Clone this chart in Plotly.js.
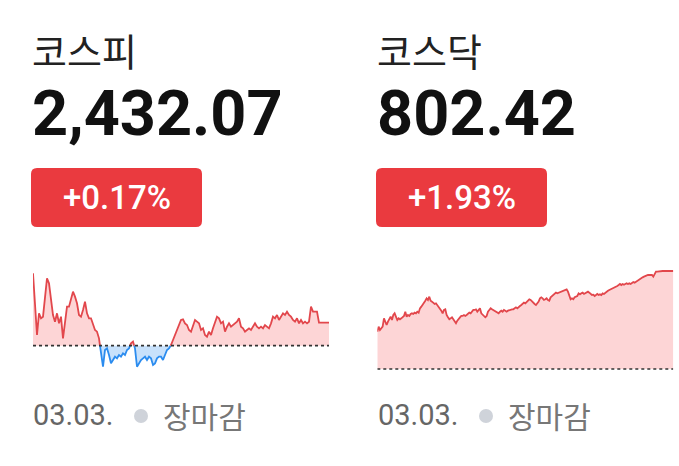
<!DOCTYPE html>
<html><head><meta charset="utf-8">
<script src="https://cdn.plot.ly/plotly-3.0.1.min.js"></script>
<style>html,body{margin:0;padding:0;background:#fff;} #chart{width:679px;height:466px;}</style>
</head><body><div id="chart"></div>
<script>
const names = ['코스피', '코스닥'];
const prices = ['2,432.07', '802.42'];
const changes = ['+0.17%', '+1.93%'];
const dateLabel = '03.03.';
const statusLabel = '장마감';
const kospiBase = 2427.94;
const kosdaqBase = 787.23;

const kospi = [
2440.96,2434.36,2429.86,2433.76,2432.86,2433.16,2437.36,2440.06,2439.16,2436.16,
2433.46,2432.26,2433.76,2431.96,2433.16,2429.26,2431.96,2434.96,2434.96,2436.16,
2437.66,2436.76,2435.56,2433.46,2433.16,2434.36,2435.86,2433.76,2432.86,2432.86,
2431.66,2430.76,2430.46,2429.26,2426.56,2424.16,2427.16,2427.46,2426.26,2424.76,
2425.36,2425.96,2425.66,2426.26,2425.96,2426.56,2426.26,2427.16,2427.46,2428.36,
2428.66,2427.46,2424.16,2424.76,2425.36,2425.66,2425.96,2425.36,2425.96,2425.66,
2424.46,2424.76,2425.66,2425.96,2425.96,2425.36,2426.26,2427.16,2427.46,2428.06,
2428.96,2429.86,2430.76,2431.66,2432.56,2432.68,2431.96,2431.66,2430.76,2430.46,
2431.66,2432.56,2432.26,2431.96,2430.76,2431.06,2429.86,2429.56,2430.46,2429.86,
2431.06,2431.96,2433.16,2432.86,2431.96,2432.26,2430.46,2431.36,2431.96,2431.36,
2431.66,2431.96,2432.26,2432.86,2431.36,2431.06,2430.46,2430.76,2431.06,2430.76,
2431.36,2431.96,2431.36,2431.06,2431.36,2431.06,2431.66,2431.36,2431.06,2431.96,
2433.16,2432.86,2433.46,2432.56,2433.16,2433.76,2433.46,2434.06,2433.46,2433.16,
2432.56,2432.26,2432.86,2431.96,2432.56,2431.96,2432.26,2431.96,2432.26,2434.96,
2434.06,2434.06,2434.06,2432.07,2432.07,2432.07,2432.07,2432.07,2432.07
];

const kosdaq = [
793.02,793.79,793.28,793.53,793.79,795.08,794.57,794.05,794.57,795.08,
795.34,794.83,795.60,795.86,795.34,794.83,795.08,794.93,795.08,795.24,
795.45,796.12,795.34,795.60,795.45,795.76,795.86,795.76,795.96,795.86,
796.12,795.96,796.63,796.89,797.15,797.51,797.82,798.18,797.93,798.44,
797.82,797.67,797.51,797.31,797.41,797.15,796.89,796.63,796.27,795.86,
796.38,796.48,795.60,795.24,794.93,795.08,795.24,794.93,794.57,794.31,
794.72,795.08,795.24,795.45,795.45,795.60,795.45,795.60,795.76,795.96,
795.86,796.12,796.38,796.38,796.48,796.12,796.48,796.63,795.86,795.60,
795.34,795.24,795.45,796.12,796.38,796.63,796.48,796.38,796.27,796.12,
795.96,795.86,796.12,796.27,796.12,796.38,796.27,796.12,796.27,796.38,
796.38,796.48,796.48,796.63,796.79,796.63,796.89,797.00,797.15,797.31,
797.51,797.41,797.67,797.93,798.03,797.93,797.67,797.51,797.31,797.15,
797.41,797.67,798.18,798.34,798.18,797.93,798.03,798.18,797.93,797.82,
798.34,798.55,798.70,798.96,799.06,798.96,799.06,799.17,799.22,799.37,
799.48,799.48,799.58,799.22,798.44,798.03,798.18,798.03,798.34,798.44,
798.55,798.96,798.80,798.96,799.06,798.86,798.96,799.06,799.22,799.06,
798.86,798.70,798.75,798.55,798.70,798.86,798.70,798.80,798.70,798.96,
798.86,799.06,799.22,799.37,799.48,799.58,799.58,799.73,799.89,799.99,
800.10,800.25,800.41,800.25,800.41,800.30,800.41,800.51,800.41,800.51,
800.41,800.51,800.72,800.61,800.77,800.92,801.03,801.13,801.28,801.44,
801.54,801.65,801.70,801.80,801.80,801.85,801.80,801.54,801.90,802.32,
802.32,802.37,802.37,802.42,802.42,802.42,802.42,802.42,802.42,802.42,
802.42,802.42,802.42
];

const W = 679, H = 466;
const X = p => p / W;
const Y = p => 1 - p / H;

const RED_LINE = '#e2474c', RED_FILL = '#fdd5d6';
const BLUE_LINE = '#2b8cef', BLUE_FILL = '#c8e1fb';

function segments(ys, base) {
  const segs = []; let cur = null;
  for (let i = 0; i < ys.length; i++) {
    const up = ys[i] >= base;
    if (!cur) { cur = {up, x: [i], y: [ys[i]]}; continue; }
    if (up !== cur.up) {
      const t = (base - ys[i-1]) / (ys[i] - ys[i-1]);
      const xc = i - 1 + t;
      cur.x.push(xc); cur.y.push(base); segs.push(cur);
      cur = {up, x: [xc, i], y: [base, ys[i]]};
    } else { cur.x.push(i); cur.y.push(ys[i]); }
  }
  segs.push(cur);
  return segs;
}

const traces = [];
function addSeries(ys, base, xa, ya) {
  const segs = segments(ys, base);
  segs.forEach(s => {
    traces.push({
      x: s.x.concat([s.x[s.x.length-1], s.x[0]]),
      y: s.y.concat([base, base]),
      xaxis: xa, yaxis: ya, mode: 'none', fill: 'toself',
      fillcolor: s.up ? RED_FILL : BLUE_FILL, hoverinfo: 'skip'
    });
  });
  segs.forEach(s => {
    traces.push({
      x: s.x, y: s.y, xaxis: xa, yaxis: ya, mode: 'lines',
      line: {color: s.up ? RED_LINE : BLUE_LINE, width: 1.8}, hoverinfo: 'skip'
    });
  });
}
addSeries(kospi, kospiBase, 'x', 'y');
addSeries(kosdaq, kosdaqBase, 'x2', 'y2');

function roundRect(x0, y0, x1, y1, r) {
  const p = (x, y) => X(x) + ',' + Y(y);
  return 'M' + p(x0 + r, y0) + ' L' + p(x1 - r, y0) + ' Q' + p(x1, y0) + ' ' + p(x1, y0 + r) +
    ' L' + p(x1, y1 - r) + ' Q' + p(x1, y1) + ' ' + p(x1 - r, y1) +
    ' L' + p(x0 + r, y1) + ' Q' + p(x0, y1) + ' ' + p(x0, y1 - r) +
    ' L' + p(x0, y0 + r) + ' Q' + p(x0, y0) + ' ' + p(x0 + r, y0) + ' Z';
}

const offsets = [0, 345];
const annotations = [];
const shapes = [];
const KR = '"Noto Sans CJK KR", "Noto Sans", sans-serif';
const RB = 'Roboto, "Noto Sans", sans-serif';
offsets.forEach((o, i) => {
  annotations.push({xref: 'paper', yref: 'paper', x: X(30 + o), y: Y(49), xanchor: 'left', yanchor: 'middle',
    text: names[i], showarrow: false, font: {family: KR, size: 38, color: '#222222'}});
  annotations.push({xref: 'paper', yref: 'paper', x: X(30 + o), y: Y(113), xanchor: 'left', yanchor: 'middle',
    text: prices[i], showarrow: false, font: {family: RB, size: 63, color: '#111111', weight: 700}});
  shapes.push({type: 'path', xref: 'paper', yref: 'paper', path: roundRect(31 + o, 168, 202 + o, 227, 6),
    fillcolor: '#ea3a3f', line: {width: 0}, layer: 'below'});
  annotations.push({xref: 'paper', yref: 'paper', x: X(116.5 + o), y: Y(197.5), xanchor: 'center', yanchor: 'middle',
    text: changes[i], showarrow: false, font: {family: RB, size: 33, color: '#ffffff', weight: 500}});
  annotations.push({xref: 'paper', yref: 'paper', x: X(31 + o), y: Y(415), xanchor: 'left', yanchor: 'middle',
    text: dateLabel, showarrow: false, font: {family: RB, size: 29, color: '#666666'}});
  shapes.push({type: 'circle', xref: 'paper', yref: 'paper', x0: X(134 + o), x1: X(148 + o), y0: Y(409), y1: Y(423),
    fillcolor: '#cfd3da', line: {width: 0}});
  annotations.push({xref: 'paper', yref: 'paper', x: X(161 + o), y: Y(415), xanchor: 'left', yanchor: 'middle',
    text: statusLabel, showarrow: false, font: {family: KR, size: 30, color: '#777777'}});
});

shapes.push({type: 'line', xref: 'x', yref: 'y', x0: 0, x1: kospi.length - 1, y0: kospiBase, y1: kospiBase,
  line: {color: '#333333', width: 1.6, dash: 'dot'}});
shapes.push({type: 'line', xref: 'x2', yref: 'y2', x0: 0, x1: kosdaq.length - 1, y0: kosdaqBase, y1: kosdaqBase,
  line: {color: '#333333', width: 1.6, dash: 'dot'}});

const ax = {visible: false, showgrid: false, zeroline: false, fixedrange: true};
const layout = {
  width: W, height: H, margin: {l: 0, r: 0, t: 0, b: 0}, showlegend: false,
  paper_bgcolor: '#ffffff', plot_bgcolor: 'rgba(0,0,0,0)',
  xaxis: Object.assign({}, ax, {domain: [X(33), X(329)], range: [0, kospi.length - 1]}),
  yaxis: Object.assign({}, ax, {domain: [Y(372), Y(262)], range: [2423.20, 2443.00]}),
  xaxis2: Object.assign({}, ax, {domain: [X(377.3), X(673.3)], range: [0, kosdaq.length - 1], anchor: 'y2'}),
  yaxis2: Object.assign({}, ax, {domain: [Y(372), Y(262)], range: [786.765, 803.815], anchor: 'x2'}),
  annotations, shapes
};
Plotly.newPlot('chart', traces, layout, {displayModeBar: false, staticPlot: true});
</script></body></html>
